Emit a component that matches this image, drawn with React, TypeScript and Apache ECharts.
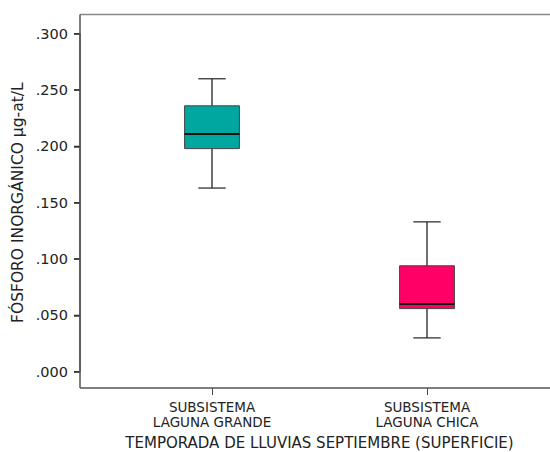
import React, { useEffect, useRef } from "react";
import * as echarts from "echarts";

const categories = ["SUBSISTEMA\nLAGUNA GRANDE", "SUBSISTEMA\nLAGUNA CHICA"];
// [lower whisker, Q1, median, Q3, upper whisker]
const boxValues = [
  [0.163, 0.198, 0.211, 0.236, 0.26],
  [0.03, 0.056, 0.06, 0.094, 0.133],
];
const boxColors = ["#00a6a0", "#ff0066"];
const yMin = 0;
const yMax = 0.3;
const yStep = 0.05;
const yTicks = [0, 0.05, 0.1, 0.15, 0.2, 0.25, 0.3];
const yName = "FÓSFORO INORGÁNICO µg-at/L";
const xName = "TEMPORADA DE LLUVIAS SEPTIEMBRE (SUPERFICIE)";

const FONT = "DejaVu Sans";

export default function App() {
  const ref = useRef<HTMLDivElement>(null);
  useEffect(() => {
    const chart = echarts.init(ref.current!, null, { renderer: "svg" });
    const data = boxValues.map((v, i) => [i, ...v]);
    chart.setOption({
      animation: false,
      backgroundColor: "#ffffff",
      grid: [
        { left: 80, right: 0, top: 33.7, bottom: 80.3, outerBoundsMode: "none", containLabel: false },
        { left: 104.5, right: 15.5, top: 33.7, bottom: 80.3, outerBoundsMode: "none", containLabel: false },
      ],
      xAxis: [
        { type: "value", gridIndex: 0, show: false, min: 0, max: 1 },
        {
          type: "category",
          gridIndex: 1,
          data: categories,
          offset: 16.3,
          name: xName,
          nameLocation: "middle",
          nameGap: 47,
          nameMoveOverlap: false,
          nameTextStyle: { fontFamily: FONT, fontSize: 15, color: "#222" },
          axisLine: { show: false, onZero: false },
          axisTick: { show: true, alignWithLabel: true, length: 7, lineStyle: { color: "#444" }, interval: 0 },
          axisLabel: { fontFamily: FONT, fontSize: 13.5, color: "#222", margin: 12, lineHeight: 14.5, interval: 0 },
        },
      ],
      yAxis: [
        {
          type: "value",
          gridIndex: 0,
          min: yMin,
          max: yMax,
          interval: yStep,
          name: yName,
          nameLocation: "middle",
          nameGap: 54,
          nameMoveOverlap: false,
          nameTextStyle: { fontFamily: FONT, fontSize: 15.5, color: "#222" },
          splitLine: { show: false },
          axisLine: { show: true, onZero: false, lineStyle: { color: "#555", width: 1.5 } },
          axisTick: { show: true, inside: false, length: 6, lineStyle: { color: "#333", width: 1.5 } },
          axisLabel: {
            fontFamily: FONT,
            fontSize: 14.5,
            color: "#222",
            margin: 12,
            formatter: (v: number) => v.toFixed(3).replace(/^0/, ""),
          },
        },
        { type: "value", gridIndex: 1, min: yMin, max: yMax, show: false, splitLine: { show: false } },
      ],
      graphic: [
        { type: "line", shape: { x1: 80, y1: 14.5, x2: 550, y2: 14.5 }, style: { stroke: "#888", lineWidth: 1.5 }, z: 10 },
        { type: "line", shape: { x1: 80, y1: 388, x2: 550, y2: 388 }, style: { stroke: "#555", lineWidth: 1.5 }, z: 10 },
        { type: "line", shape: { x1: 80, y1: 14.5, x2: 80, y2: 388 }, style: { stroke: "#555", lineWidth: 1.5 }, z: 10 },
      ],
      series: [
        {
          type: "custom",
          xAxisIndex: 0,
          yAxisIndex: 0,
          clip: false,
          silent: true,
          data: yTicks.map((v) => [0, v]),
          renderItem: (params: any, api: any) => {
            const p = api.coord([api.value(0), api.value(1)]);
            return {
              type: "line",
              shape: { x1: p[0] - 6, y1: p[1], x2: p[0], y2: p[1] },
              style: { stroke: "#333", lineWidth: 1.3 },
            };
          },
        },
        {
          type: "custom",
          xAxisIndex: 1,
          yAxisIndex: 1,
          data,
          encode: { x: 0, y: [1, 2, 3, 4, 5] },
          renderItem: (params: any, api: any) => {
            const idx = api.value(0);
            const vals = [1, 2, 3, 4, 5].map((d) => api.value(d));
            const pts = vals.map((v) => api.coord([idx, v]));
            const cx = pts[0][0];
            const band = api.size([1, 0])[0];
            const bw = band * 0.255;
            const cw = bw / 2;
            const [pLow, pQ1, pMed, pQ3, pHigh] = pts.map((p: number[]) => p[1]);
            const color = boxColors[params.dataIndex];
            return {
              type: "group",
              children: [
                { type: "line", shape: { x1: cx, y1: pHigh, x2: cx, y2: pQ3 }, style: { stroke: "#222", lineWidth: 1.3 } },
                { type: "line", shape: { x1: cx, y1: pQ1, x2: cx, y2: pLow }, style: { stroke: "#222", lineWidth: 1.3 } },
                { type: "line", shape: { x1: cx - cw / 2, y1: pHigh, x2: cx + cw / 2, y2: pHigh }, style: { stroke: "#333", lineWidth: 1.3 } },
                { type: "line", shape: { x1: cx - cw / 2, y1: pLow, x2: cx + cw / 2, y2: pLow }, style: { stroke: "#333", lineWidth: 1.3 } },
                {
                  type: "rect",
                  shape: { x: cx - bw / 2, y: pQ3, width: bw, height: pQ1 - pQ3 },
                  style: { fill: color, stroke: "#444", lineWidth: 1 },
                },
                { type: "line", shape: { x1: cx - bw / 2, y1: pMed, x2: cx + bw / 2, y2: pMed }, style: { stroke: "#111", lineWidth: 2 } },
              ],
            };
          },
        },
      ],
    });
    return () => chart.dispose();
  }, []);
  return <div ref={ref} style={{ width: 550, height: 452, position: "absolute", left: 0, top: 0 }} />;
}
